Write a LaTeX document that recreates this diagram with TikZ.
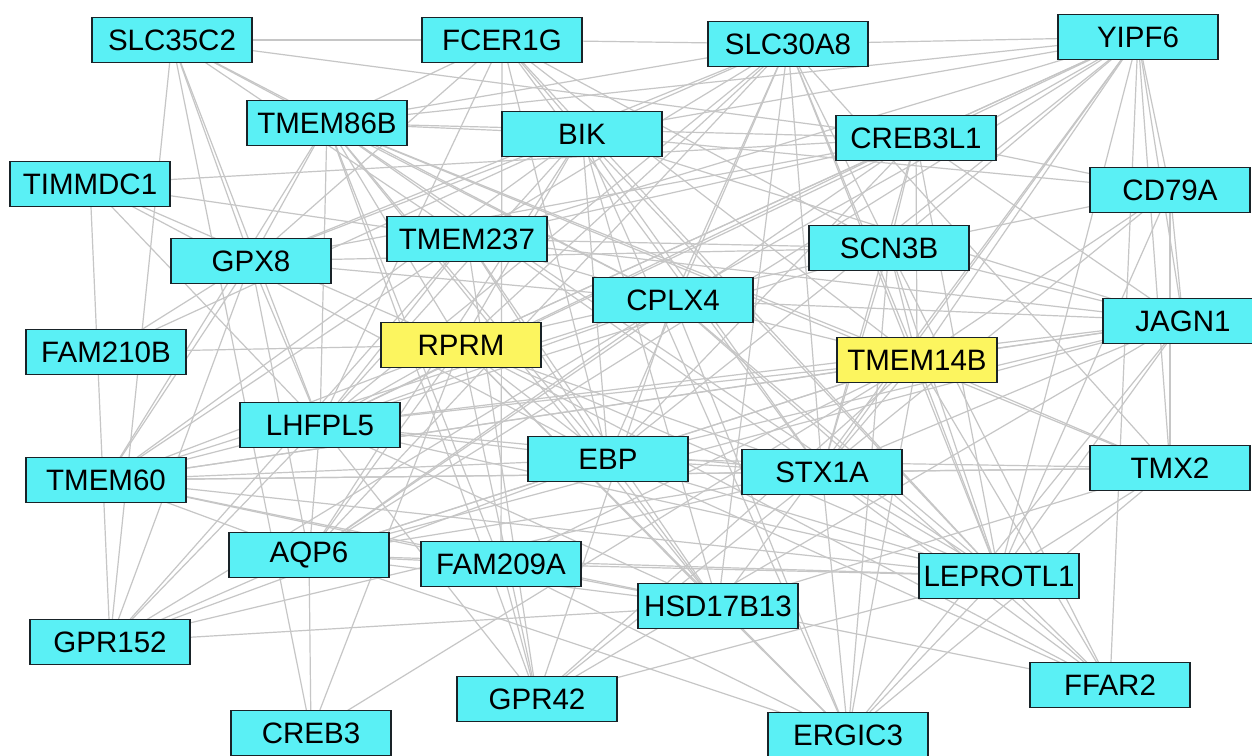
\documentclass[tikz,border=0pt]{standalone}
\usepackage{fontspec}
\setmainfont{Liberation Sans}
\usetikzlibrary{backgrounds}
\definecolor{nodecyan}{RGB}{90,240,245}
\definecolor{nodeyellow}{RGB}{252,245,95}
\definecolor{edgegray}{RGB}{198,198,198}
\definecolor{nodeborder}{RGB}{25,35,40}
\begin{document}
\begin{tikzpicture}[x=1pt,y=-1pt,
  gene/.style={draw=nodeborder,line width=1.8pt,fill=nodecyan,minimum width=160pt,minimum height=45pt,inner sep=0pt,font=\fontsize{29.5}{31}\selectfont},
  seed/.style={gene,fill=nodeyellow},
  link/.style={draw=edgegray,line width=1.2pt}]
\useasboundingbox (0,0) rectangle (1252,755);
% nodes
\node[gene] (s35) at (172,40) {SLC35C2};
\node[gene] (fce) at (502,40) {FCER1G};
\node[gene] (s30) at (788,44) {SLC30A8};
\node[gene] (yip) at (1138,37) {YIPF6};
\node[gene] (t86) at (327,123) {TMEM86B};
\node[gene] (bik) at (582,134) {BIK};
\node[gene] (cr1) at (916,138) {CREB3L1};
\node[gene] (tim) at (90,184) {TIMMDC1};
\node[gene] (cd7) at (1170,190) {CD79A};
\node[gene] (gpx) at (251,261) {GPX8};
\node[gene] (t237) at (467,239) {TMEM237};
\node[gene] (scn) at (889,248) {SCN3B};
\node[gene] (cpl) at (673,300) {CPLX4};
\node[gene] (jag) at (1183,321) {JAGN1};
\node[gene] (f210) at (106,352) {FAM210B};
\node[seed] (rpr) at (461,345) {RPRM};
\node[seed] (t14) at (917,360) {TMEM14B};
\node[gene] (lhf) at (320,425) {LHFPL5};
\node[gene] (ebp) at (608,459) {EBP};
\node[gene] (stx) at (822,472) {STX1A};
\node[gene] (tmx) at (1170,468) {TMX2};
\node[gene] (t60) at (106,480) {TMEM60};
\node[gene] (aqp) at (309,555) {AQP6};
\node[gene] (f209) at (501,564) {FAM209A};
\node[gene] (lep) at (999,576) {LEPROTL1};
\node[gene] (hsd) at (718,606) {HSD17B13};
\node[gene] (g152) at (110,642) {GPR152};
\node[gene] (ffa) at (1110,685) {FFAR2};
\node[gene] (g42) at (537,699) {GPR42};
\node[gene] (cr3) at (311,733) {CREB3};
\node[gene] (erg) at (848,735) {ERGIC3};
% edges
\begin{scope}[on background layer]
\fill[white] (0,0) rectangle (1252,755);
\foreach \a/\b in {
 s35/fce,s35/cr1,s35/g152,s35/cr3,s35/gpx,s35/t237,s35/cpl,s35/t86,s35/lhf,
 fce/s30,fce/f209,fce/ebp,fce/scn,fce/t14,fce/lep,fce/stx,fce/bik,fce/t86,fce/lhf,fce/gpx,
 s30/yip,s30/bik,s30/t237,s30/cpl,s30/rpr,s30/scn,s30/t14,s30/stx,s30/ebp,s30/lep,s30/tmx,s30/gpx,s30/t86,s30/lhf,s30/hsd,s30/aqp,
 yip/cr1,yip/t86,yip/bik,yip/scn,yip/cpl,yip/rpr,yip/t237,yip/t14,yip/stx,yip/ebp,yip/lhf,yip/lep,yip/jag,yip/tmx,yip/ffa,yip/cd7,yip/hsd,yip/aqp,
 t86/bik,t86/cr1,t86/gpx,t86/t60,t86/lhf,t86/f209,t86/g42,t86/t14,t86/tmx,t86/cpl,t86/stx,t86/lep,t86/hsd,t86/ebp,t86/rpr,
 bik/cd7,bik/rpr,bik/lhf,bik/t60,bik/gpx,bik/ebp,bik/stx,bik/lep,bik/erg,bik/jag,bik/aqp,bik/f210,bik/hsd,
 cr1/cd7,cr1/scn,cr1/t14,cr1/gpx,cr1/lhf,cr1/aqp,cr1/ebp,cr1/stx,cr1/jag,cr1/t237,cr1/rpr,cr1/lep,cr1/tim,
 cd7/jag,cd7/tmx,cd7/scn,cd7/t14,cd7/lep,cd7/stx,
 gpx/cpl,gpx/lhf,gpx/aqp,gpx/t60,gpx/f210,gpx/g152,gpx/scn,
 t237/lhf,t237/cpl,t237/scn,t237/ebp,t237/hsd,t237/g42,t237/t60,t237/g152,t237/tim,t237/jag,
 scn/t14,scn/lep,scn/stx,scn/lhf,scn/rpr,scn/erg,scn/ffa,scn/jag,
 cpl/jag,cpl/t14,cpl/lhf,cpl/aqp,cpl/t60,cpl/g152,cpl/lep,cpl/ffa,cpl/erg,cpl/g42,
 jag/t14,jag/stx,jag/lep,jag/erg,jag/t60,jag/lhf,jag/ebp,jag/aqp,jag/g42,
 rpr/f210,rpr/lhf,rpr/ebp,rpr/hsd,rpr/stx,rpr/lep,rpr/ffa,rpr/erg,rpr/cr3,rpr/g42,rpr/t60,rpr/aqp,rpr/tim,
 t14/tmx,t14/lep,t14/stx,t14/erg,t14/ffa,t14/cr3,t14/g42,t14/aqp,t14/t60,t14/ebp,t14/lhf,t14/f209,
 lhf/t60,lhf/aqp,lhf/g152,lhf/ebp,lhf/stx,lhf/lep,lhf/g42,lhf/hsd,lhf/tim,
 ebp/hsd,ebp/stx,ebp/t60,ebp/aqp,ebp/g152,ebp/lep,ebp/tmx,ebp/ffa,ebp/tim,
 stx/tmx,stx/erg,stx/lep,stx/t60,stx/aqp,stx/g152,stx/g42,stx/ffa,
 tmx/lep,tmx/hsd,tmx/erg,tmx/t60,
 t60/aqp,t60/lep,t60/hsd,t60/f209,
 aqp/g152,aqp/cr3,aqp/f209,aqp/hsd,aqp/lep,aqp/erg,
 f209/g42,f209/hsd,f209/lep,f209/erg,
 hsd/g152,hsd/ffa,hsd/erg,
 lep/ffa,lep/erg,lep/g42,
 tim/g152}
  \draw[link] (\a.center) -- (\b.center);
\end{scope}
\end{tikzpicture}
\end{document}
